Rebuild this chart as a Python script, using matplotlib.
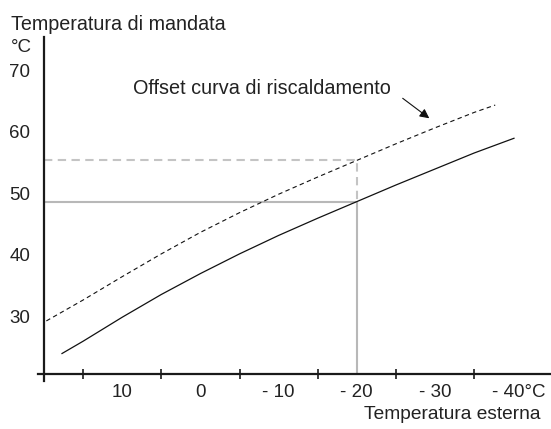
import matplotlib
matplotlib.use("Agg")
import matplotlib.pyplot as plt
from matplotlib.ticker import FixedLocator
from matplotlib.transforms import ScaledTranslation

plt.rcParams['font.family'] = ['Liberation Sans', 'DejaVu Sans']

# ---- data ----
outdoor_temp = [17.7, 15, 10, 5, 0, -5, -10, -15, -20, -25, -30, -35, -40.1]
supply_temp = [23.9, 25.9, 29.8, 33.5, 36.9, 40.1, 43.1, 45.9, 48.6, 51.3, 53.9, 56.5, 58.9]

offset_outdoor = [19.7, 15, 10, 5, 0, -5, -10, -15, -20, -25, -30, -35, -37.7]
offset_supply = [29.2, 32.6, 36.4, 40.1, 43.6, 46.8, 49.8, 52.6, 55.3, 58.0, 60.6, 63.1, 64.3]

design_outdoor = -20
design_supply = 48.6
design_offset_supply = 55.3

x_ticks = [10, 0, -10, -20, -30, -40]
x_tick_labels = ["10", "0", "- 10", "- 20", "- 30", "- 40°C"]
x_minor_ticks = [15, 5, -5, -15, -25, -35]
y_ticks = [30, 40, 50, 60, 70]
y_tick_labels = ["30", "40", "50", "60", "70"]

title_text = "Temperatura di mandata"
unit_text = "°C"
xlabel_text = "Temperatura esterna"
offset_text = "Offset curva di riscaldamento"

# ---- layout ----
W, H = 551, 429
fig = plt.figure(figsize=(W / 100, H / 100), dpi=100)

# axes in pixels
ax_left, ax_right, ax_top, ax_bottom = 38, 551, 37, 381
ax = fig.add_axes([ax_left / W, (H - ax_bottom) / H,
                   (ax_right - ax_left) / W, (ax_bottom - ax_top) / H])

x0 = 20.0
y0 = 20.57
xscale = 7.82  # px per degree
yscale = 6.15
ax.set_xlim(x0 + (44 - ax_left) / xscale, x0 - (ax_right - 44) / xscale)
ax.set_ylim(y0 - (ax_bottom - 374) / yscale, y0 + (374 - ax_top) / yscale)

for s in ['top', 'right']:
    ax.spines[s].set_visible(False)
ax.spines['left'].set_position(('data', x0))
ax.spines['bottom'].set_position(('data', y0))
for s in ['left', 'bottom']:
    ax.spines[s].set_linewidth(1.6)
    ax.spines[s].set_color('#1a1a1a')

# reference lines (grey)
grey = '#b8b8b8'
ax.plot([x0, design_outdoor], [design_supply, design_supply], color=grey, lw=1.5, solid_capstyle='butt')
ax.plot([design_outdoor, design_outdoor], [y0, design_supply], color=grey, lw=1.5, solid_capstyle='butt')
ax.plot([x0, design_outdoor, design_outdoor],
        [design_offset_supply, design_offset_supply, design_supply],
        color='#c4c4c4', lw=1.5, dashes=(4, 2.6))

# curves
ax.plot(outdoor_temp, supply_temp, color='#111111', lw=0.9)
ax.plot(offset_outdoor, offset_supply, color='#111111', lw=0.8, dashes=(4, 3))

# ticks
ax.set_xticks(x_ticks)
ax.set_xticklabels(x_tick_labels)
ax.xaxis.set_minor_locator(FixedLocator(x_minor_ticks))
ax.tick_params(axis='x', which='major', length=0, pad=7, labelsize=13.5, colors='#222222')
ax.tick_params(axis='x', which='minor', length=7, width=1.2, direction='inout', color='#1a1a1a')
ax.set_yticks(y_ticks)
ax.set_yticklabels(y_tick_labels)
ax.tick_params(axis='y', length=0, pad=10, labelsize=13.5, colors='#222222')

# shift the last label so the number sits on its value and °C hangs right
lab = ax.get_xticklabels()[-1]
lab.set_transform(lab.get_transform() + ScaledTranslation(6 / 100, 0, fig.dpi_scale_trans))

# texts
fig.text(11 / W, (H - 30) / H, title_text, fontsize=14.2, color='#222222', va='baseline', ha='left')
fig.text(11 / W, (H - 52) / H, unit_text, fontsize=13.5, color='#222222', va='baseline', ha='left')
fig.text(540 / W, (H - 419) / H, xlabel_text, fontsize=13.8, color='#222222', va='baseline', ha='right')
fig.text(133 / W, (H - 94) / H, offset_text, fontsize=14.3, color='#222222', va='baseline', ha='left')

# arrow
ax.annotate('', xy=(-29.27, 62.15), xytext=(-25.87, 65.4),
            arrowprops=dict(arrowstyle='-|>', lw=0.8, color='#111111', mutation_scale=14,
                            shrinkA=0, shrinkB=0))

fig.savefig('out.png', dpi=100)
